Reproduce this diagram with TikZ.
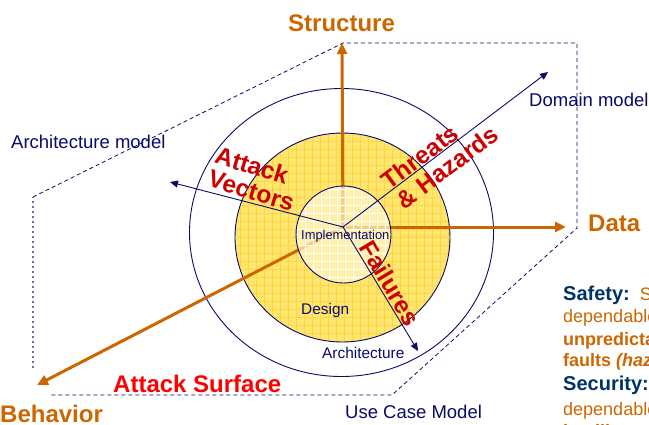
\documentclass[tikz,border=0pt]{standalone}
\usepackage{fontspec}
\setmainfont{Liberation Sans}
\usetikzlibrary{arrows.meta}
\definecolor{navy}{RGB}{10,10,105}
\definecolor{orng}{RGB}{204,102,0}
\definecolor{dred}{RGB}{204,0,0}
\definecolor{bred}{RGB}{255,0,0}
\definecolor{ylw}{RGB}{255,230,115}
\definecolor{ylwgrid}{RGB}{255,216,60}
\definecolor{pale}{RGB}{255,246,195}
\definecolor{dnavy}{RGB}{0,51,102}
\definecolor{lblue}{RGB}{110,110,170}
\tikzset{
  axisarrow/.style={draw=orng, line width=3pt, -{Triangle[length=11pt,width=10pt]}},
  vecarrow/.style={draw=navy, line width=0.9pt, -{Triangle[length=8pt,width=7pt]}},
  ring/.style={draw=navy, line width=0.9pt},
  dashbox/.style={draw=navy, line width=0.8pt, dash pattern=on 4pt off 3pt},
  dashlight/.style={draw=lblue, line width=1.2pt, dash pattern=on 2pt off 3pt},
  txt/.style={inner sep=0pt, anchor=base west},
  axislabel/.style={txt, text=orng, font=\bfseries\fontsize{24}{26}\selectfont},
  modellabel/.style={txt, text=navy, font=\fontsize{18.5}{20}\selectfont},
  redlabel/.style={text=dred, font=\bfseries\fontsize{24.5}{26}\selectfont, align=left, inner sep=0pt},
  sidenavy/.style={txt, text=dnavy, font=\bfseries\fontsize{20}{22}\selectfont},
  sideorng/.style={txt, text=orng, font=\fontsize{18}{20}\selectfont},
  sideorngb/.style={txt, text=orng, font=\bfseries\fontsize{18}{20}\selectfont},
}
\begin{document}
\begin{tikzpicture}[x=1pt,y=-1pt]
\useasboundingbox (0,0) rectangle (649,424);
\clip (0,0) rectangle (649,424);

% middle ring (yellow with grid)
\begin{scope}
  \clip (342.5,237.5) ellipse [x radius=107.5, y radius=104.5];
  \fill[ylw] (230,130) rectangle (455,345);
  \foreach \i in {232,240,...,456} \draw[ylwgrid, line width=0.5pt] (\i,130) -- (\i,345);
  \foreach \j in {133,141,...,345} \draw[ylwgrid, line width=0.5pt] (230,\j) -- (455,\j);
\end{scope}
\draw[ring] (342.5,237.5) ellipse [x radius=107.5, y radius=104.5];
\draw[ring] (341.5,232.5) ellipse [x radius=152, y radius=144];

% dashed prism outline
\coordinate (b1) at (33,197);
\coordinate (b2) at (343,43);
\coordinate (b3) at (577,43);
\coordinate (b4) at (577,228);
\coordinate (b5) at (392,395);
\coordinate (b6) at (50,395);
\coordinate (b7) at (33,368);
\draw[dashbox] (b1) -- (b2) -- (b3) -- (b4) -- (b5) -- (b6);
\draw[dashlight] (b7) -- (b1);

% axes
\coordinate (O) at (343,227);
\coordinate (ST) at (342,43);
\coordinate (DA) at (566,227);
\coordinate (BE) at (37,385);
\draw[axisarrow] (O) -- (ST);
\draw[axisarrow] (O) -- (DA);
\draw[axisarrow] (O) -- (BE);

% inner circle
\fill[pale, opacity=0.72] (343.5,234.5) ellipse [x radius=47.5, y radius=48.5];
\begin{scope}
  \clip (343.5,234.5) ellipse [x radius=47.5, y radius=48.5];
  \foreach \i in {297,305,...,392} \draw[white, line width=0.7pt] (\i,185) -- (\i,284);
  \foreach \j in {189,197,...,284} \draw[white, line width=0.7pt] (295,\j) -- (392,\j);
\end{scope}
\draw[ring] (343.5,234.5) ellipse [x radius=47.5, y radius=48.5];

% navy vectors
\coordinate (DM) at (548,72);
\coordinate (AV) at (170,182);
\coordinate (FA) at (418,351);
\draw[vecarrow] (O) -- (DM);
\draw[vecarrow] (O) -- (AV);
\draw[vecarrow] (O) -- (FA);

% axis labels
\node[axislabel] (lst) at (288,31) {Structure};
\node[axislabel] (lda) at (588,231) {Data};
\node[axislabel] (lbe) at (0,422) {Behavior};
\node[txt, text=bred, font=\bfseries\fontsize{24}{26}\selectfont] (las) at (113,392) {Attack Surface};

% model labels
\node[modellabel] (ldm) at (529,106) {Domain model};
\node[modellabel] (lam) at (11,148) {Architecture model};
\node[modellabel] (luc) at (345,418) {Use Case Model};
\node[txt, text=navy, font=\fontsize{15.4}{17}\selectfont] (lar) at (322,358) {Architecture};
\node[txt, text=navy, font=\fontsize{15.4}{17}\selectfont] (lds) at (301,314) {Design};
\node[txt, text=navy, font=\fontsize{12.9}{14}\selectfont] (lim) at (301,239) {Implementation};

% red rotated labels
\node[redlabel, rotate=-17] (lav) at (255,179) {Attack\\[-2pt]Vectors};
\node[redlabel, rotate=37] (lth) at (440,157) {Threats\\[-1pt]\& Hazards};
\node[redlabel, rotate=-59] (lfa) at (390,283) {Failures};

% side text
\node[sidenavy] (s1) at (563,300) {Safety:\hspace{10pt}{\mdseries\fontsize{18}{20}\selectfont\color{orng}System}};
\node[sideorng] (s2) at (563,322) {dependable despite};
\node[sideorngb] (s3) at (563,345) {unpredictable};
\node[sideorngb] (s4) at (563,366) {faults \textit{(hazards)}};
\node[sidenavy] (s5) at (563,390) {Security: {\mdseries\fontsize{18}{20}\selectfont\color{orng}System}};
\node[sideorng] (s6) at (563,415) {dependable despite};
\node[sideorngb] (s7) at (563,437) {intelligent faults \textit{(threats)}};
\end{tikzpicture}
\end{document}
